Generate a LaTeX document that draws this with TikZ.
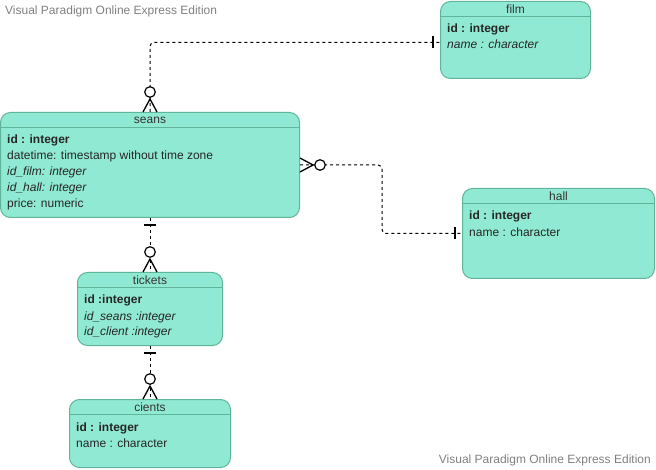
\documentclass[tikz,border=0pt]{standalone}
\usepackage{fontspec}
\setmainfont{Liberation Sans}
\usetikzlibrary{positioning}
\definecolor{entfill}{RGB}{144,234,211}
\definecolor{entline}{RGB}{96,180,154}
\definecolor{txtgray}{RGB}{51,51,51}
\definecolor{markgray}{RGB}{128,128,128}
\tikzset{
  entity/.style={draw=entline, fill=entfill, rounded corners=10, line width=1, inner sep=0, anchor=north west},
  enttitle/.style={inner sep=0, text=txtgray, font=\fontsize{12}{14}\selectfont},
  field/.style={inner sep=0, anchor=base west, text=black!85, font=\fontsize{12}{14}\selectfont},
  rel/.style={line width=1, dash pattern=on 3 off 3, rounded corners=4},
  zeromany/.pic={
    \draw[line width=1.3, solid] (0,-7) -- (13,0) -- (0,7);
    \draw[line width=1.2, solid, fill=white] (20,0) circle (5.3);
  },
  onebar/.pic={
    \draw[line width=2, solid] (7,-6) -- (7,6);
  }
}
\begin{document}
\begin{tikzpicture}[x=1pt, y=1pt]
\useasboundingbox (0,0) rectangle (656,-470);

% watermarks
\node[inner sep=0, anchor=west, text=markgray, font=\fontsize{12}{14}\selectfont] (marktop) at (5,-11) {Visual Paradigm Online Express Edition};
\node[inner sep=0, anchor=east, text=markgray, font=\fontsize{12}{14}\selectfont] (markbottom) at (651,-460) {Visual Paradigm Online Express Edition};

% entities
\node[entity, minimum width=150, minimum height=77] (film) at (440,-1) {};
\node[entity, minimum width=299, minimum height=105] (seans) at (0,-112) {};
\node[entity, minimum width=192, minimum height=90] (hall) at (462,-188) {};
\node[entity, minimum width=145, minimum height=73] (tickets) at (77,-272) {};
\node[entity, minimum width=161, minimum height=68] (cients) at (69,-399) {};

% header lines and titles
\foreach \ent/\name in {film/film, seans/seans, hall/hall, tickets/tickets, cients/cients}
{
  \draw[entline, line width=1] ([yshift=-15.5]\ent.north west) -- ([yshift=-15.5]\ent.north east);
  \node[enttitle] (\ent title) at ([yshift=-8]\ent.north) {\name};
}

% fields
\foreach \txt [count=\i] in {{\bfseries id : integer}, {\itshape name : character}}
{
  \node[field] (filmfield\i) at (447,-33-16*\i+16) {\txt};
}
\foreach \txt [count=\i] in {{\bfseries id : integer}, {datetime: timestamp without time zone}, {\itshape id\_film: integer}, {\itshape id\_hall: integer}, {price: numeric}}
{
  \node[field] (seansfield\i) at (7,-144-16*\i+16) {\txt};
}
\foreach \txt [count=\i] in {{\bfseries id : integer}, {name : character}}
{
  \node[field] (hallfield\i) at (469,-220-17*\i+17) {\txt};
}
\foreach \txt [count=\i] in {{\bfseries id :integer}, {\itshape id\_seans :integer}, {\itshape id\_client :integer}}
{
  \node[field] (ticketsfield\i) at (84,-304-16*\i+16) {\txt};
}
\foreach \txt [count=\i] in {{\bfseries id : integer}, {name : character}}
{
  \node[field] (cientsfield\i) at (76,-431-16*\i+16) {\txt};
}

% relations
\draw[rel] (seans.north) |- ([yshift=-2.5]film.west);
\draw[rel] (seans.east) -- ++(82,0) |- (hall.west);
\draw[rel] (seans.south) -- (tickets.north);
\draw[rel] (tickets.south) -- (cients.north);

% ends
\path (seans.north) pic[rotate=90] {zeromany};
\path ([yshift=-2.5]film.west) pic[rotate=180] {onebar};
\path (seans.east) pic {zeromany};
\path (hall.west) pic[rotate=180] {onebar};
\path (seans.south) pic[rotate=-90] {onebar};
\path (tickets.north) pic[rotate=90] {zeromany};
\path (tickets.south) pic[rotate=-90] {onebar};
\path (cients.north) pic[rotate=90] {zeromany};

\end{tikzpicture}
\end{document}
